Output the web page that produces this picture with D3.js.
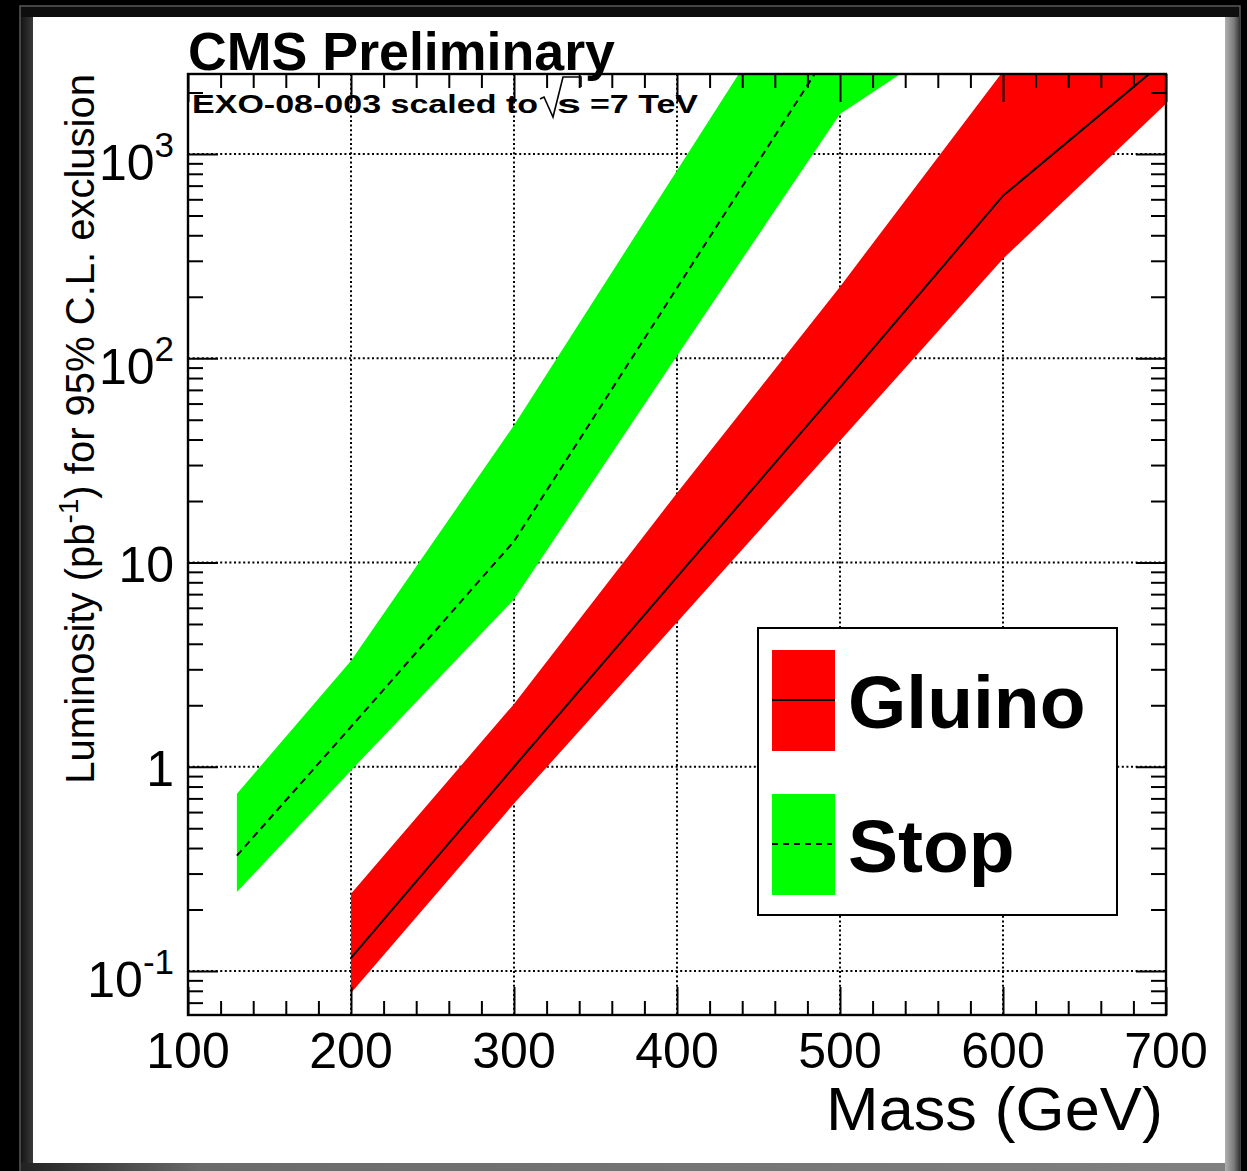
<!DOCTYPE html>
<html>
<head>
<meta charset="utf-8">
<script src="https://cdnjs.cloudflare.com/ajax/libs/d3/7.8.5/d3.min.js"></script>
<style>
  html, body { margin: 0; padding: 0; background: #000; }
  svg { display: block; }
  text { font-family: "Liberation Sans", Arial, Helvetica, sans-serif; }
</style>
</head>
<body>
<script>
// ---------------- data ----------------
const massStop     = [130, 200, 300, 400, 500, 600];
const stopCenter   = [0.367, 1.57, 12.7, 221, 3840, 12000];
const stopLow      = [0.244, 0.96, 6.6, 103, 1570, 5300];
const stopHigh     = [0.738, 3.3, 47, 830, 14700, 40000];

const massGluino   = [200, 300, 400, 500, 600, 700];
const gluinoCenter = [0.116, 1.0, 8.5, 72, 625, 2890];
const gluinoLow    = [0.078, 0.66, 5.1, 39.5, 307, 1760];
const gluinoHigh   = [0.239, 2.03, 21.9, 224, 2540, 13000];

const xTickValues = [100, 200, 300, 400, 500, 600, 700];
const xTickLabels = ["100", "200", "300", "400", "500", "600", "700"];
const yTickValues = [0.1, 1, 10, 100, 1000];
const yTickBase   = ["10", "1", "10", "10", "10"];
const yTickSup    = ["-1", "", "", "2", "3"];
const legendNames = ["Gluino", "Stop"];

// ---------------- layout ----------------
const W = 1247, H = 1171;
const L = 188, R = 1166, T = 74, B = 1015;

const svg = d3.select("body").append("svg").attr("width", W).attr("height", H);
const defs = svg.append("defs");

// window-like frame
const gR = defs.append("linearGradient").attr("id", "gRight").attr("x1", 0).attr("x2", 1).attr("y1", 0).attr("y2", 0);
gR.append("stop").attr("offset", "0").attr("stop-color", "#b0b0b0");
gR.append("stop").attr("offset", "0.6").attr("stop-color", "#7a7a7a");
gR.append("stop").attr("offset", "1").attr("stop-color", "#333");
const gB = defs.append("linearGradient").attr("id", "gBottom").attr("x1", 0).attr("x2", 1).attr("y1", 0).attr("y2", 0);
gB.append("stop").attr("offset", "0").attr("stop-color", "#222");
gB.append("stop").attr("offset", "0.15").attr("stop-color", "#6a6a6a");
gB.append("stop").attr("offset", "1").attr("stop-color", "#808080");
const gL = defs.append("linearGradient").attr("id", "gLeft").attr("x1", 0).attr("x2", 1).attr("y1", 0).attr("y2", 0);
gL.append("stop").attr("offset", "0").attr("stop-color", "#151515");
gL.append("stop").attr("offset", "1").attr("stop-color", "#3a3a3a");

svg.append("rect").attr("width", W).attr("height", H).attr("fill", "#000");
svg.append("rect").attr("x", 20).attr("y", 6).attr("width", 1220).attr("height", 1170)
  .attr("fill", "#0e0e0e").attr("stroke", "#5a5a5a").attr("stroke-width", 1.5);
svg.append("rect").attr("x", 21).attr("y", 17).attr("width", 12).attr("height", 1154).attr("fill", "url(#gLeft)");
svg.append("rect").attr("x", 1225).attr("y", 17).attr("width", 15).attr("height", 1154).attr("fill", "url(#gRight)");
svg.append("rect").attr("x", 21).attr("y", 1163).attr("width", 1204).attr("height", 8).attr("fill", "url(#gBottom)");
svg.append("rect").attr("x", 33).attr("y", 17).attr("width", 1192).attr("height", 1146).attr("fill", "#fff");

// ---------------- scales ----------------
const x = d3.scaleLinear().domain([100, 700]).range([L, R]);
const y = d3.scaleLog().domain([0.0609, 2464]).range([B, T]);

defs.append("clipPath").attr("id", "plotClip")
  .append("rect").attr("x", L).attr("y", T).attr("width", R - L).attr("height", B - T);

// ---------------- grid ----------------
const grid = svg.append("g").attr("stroke", "#000").attr("stroke-width", 2)
  .attr("stroke-dasharray", "2,2.6").attr("fill", "none");
xTickValues.filter(v => v > 100 && v < 700).forEach(v => {
  grid.append("line").attr("x1", x(v)).attr("x2", x(v)).attr("y1", T).attr("y2", B);
});
yTickValues.forEach(v => {
  grid.append("line").attr("x1", L).attr("x2", R).attr("y1", y(v)).attr("y2", y(v));
});

// ---------------- bands ----------------
const plot = svg.append("g").attr("clip-path", "url(#plotClip)");
const stopData = massStop.map((m, i) => ({ m, c: stopCenter[i], lo: stopLow[i], hi: stopHigh[i] }));
const gluData  = massGluino.map((m, i) => ({ m, c: gluinoCenter[i], lo: gluinoLow[i], hi: gluinoHigh[i] }));

const area = d3.area().x(d => x(d.m)).y0(d => y(d.lo)).y1(d => y(d.hi));
const line = d3.line().x(d => x(d.m)).y(d => y(d.c));

plot.append("path").datum(stopData).attr("d", area).attr("fill", "#00ff00");
plot.append("path").datum(gluData).attr("d", area).attr("fill", "#ff0000");
plot.append("path").datum(stopData).attr("d", line).attr("fill", "none")
  .attr("stroke", "#000").attr("stroke-width", 2).attr("stroke-dasharray", "7,5");
plot.append("path").datum(gluData).attr("d", line).attr("fill", "none")
  .attr("stroke", "#000").attr("stroke-width", 2);

// ---------------- axes (ticks) ----------------
const xMinor = d3.range(120, 700, 20).filter(v => v % 100 !== 0);
const yMinor = [];
for (let d = -2; d <= 3; d++) for (let k = 2; k <= 9; k++) {
  const v = k * Math.pow(10, d);
  if (v > 0.0609 && v < 2464) yMinor.push(v);
}
function styleAxis(g) {
  g.select(".domain").remove();
  g.selectAll(".tick line").attr("stroke", "#000").attr("stroke-width", 2);
  g.selectAll(".tick text").remove();
}
svg.append("g").attr("transform", `translate(0,${B})`)
  .call(d3.axisBottom(x).tickValues(xTickValues).tickSizeInner(-28).tickSizeOuter(0).tickFormat("")).call(styleAxis);
svg.append("g").attr("transform", `translate(0,${B})`)
  .call(d3.axisBottom(x).tickValues(xMinor).tickSizeInner(-14).tickSizeOuter(0).tickFormat("")).call(styleAxis);
svg.append("g").attr("transform", `translate(0,${T})`)
  .call(d3.axisTop(x).tickValues(xTickValues).tickSizeInner(-28).tickSizeOuter(0).tickFormat("")).call(styleAxis);
svg.append("g").attr("transform", `translate(0,${T})`)
  .call(d3.axisTop(x).tickValues(xMinor).tickSizeInner(-14).tickSizeOuter(0).tickFormat("")).call(styleAxis);
svg.append("g").attr("transform", `translate(${L},0)`)
  .call(d3.axisLeft(y).tickValues(yTickValues).tickSizeInner(-30).tickSizeOuter(0).tickFormat("")).call(styleAxis);
svg.append("g").attr("transform", `translate(${L},0)`)
  .call(d3.axisLeft(y).tickValues(yMinor).tickSizeInner(-15).tickSizeOuter(0).tickFormat("")).call(styleAxis);
svg.append("g").attr("transform", `translate(${R},0)`)
  .call(d3.axisRight(y).tickValues(yTickValues).tickSizeInner(-30).tickSizeOuter(0).tickFormat("")).call(styleAxis);
svg.append("g").attr("transform", `translate(${R},0)`)
  .call(d3.axisRight(y).tickValues(yMinor).tickSizeInner(-15).tickSizeOuter(0).tickFormat("")).call(styleAxis);

// frame
svg.append("rect").attr("x", L).attr("y", T).attr("width", R - L).attr("height", B - T)
  .attr("fill", "none").attr("stroke", "#000").attr("stroke-width", 2.4);

// ---------------- tick labels ----------------
svg.append("g").selectAll("text").data(xTickValues).join("text")
  .attr("x", d => x(d)).attr("y", 1068).attr("text-anchor", "middle")
  .attr("font-size", 50).attr("fill", "#000")
  .text((d, i) => xTickLabels[i]);

const yl = svg.append("g").selectAll("text").data(yTickValues).join("text")
  .attr("x", 174).attr("y", (d, i) => y(d) + (yTickSup[i] ? 26 : 19))
  .attr("text-anchor", "end").attr("font-size", 50).attr("fill", "#000");
yl.append("tspan").text((d, i) => yTickBase[i]);
yl.append("tspan").attr("font-size", 35).attr("dy", -23).text((d, i) => yTickSup[i]);

// ---------------- titles ----------------
svg.append("text").attr("x", 826).attr("y", 1130).attr("font-size", 62).attr("fill", "#000")
  .attr("textLength", 337).attr("lengthAdjust", "spacingAndGlyphs")
  .text("Mass (GeV)");

const ylab = svg.append("text").attr("transform", "translate(94,74) rotate(-90)")
  .attr("text-anchor", "end").attr("font-size", 40).attr("fill", "#000");
ylab.append("tspan").text("Luminosity (pb");
ylab.append("tspan").attr("font-size", 28).attr("dy", -16).text("-1");
ylab.append("tspan").attr("dy", 16).text(") for 95% C.L. exclusion");

svg.append("text").attr("x", 188).attr("y", 70).attr("font-size", 53).attr("font-weight", "bold")
  .attr("fill", "#000").attr("textLength", 427).attr("lengthAdjust", "spacingAndGlyphs")
  .text("CMS Preliminary");

const sub = svg.append("g").attr("font-weight", "bold").attr("font-size", 26).attr("fill", "#000");
sub.append("text").attr("x", 192).attr("y", 113).attr("textLength", 346).attr("lengthAdjust", "spacingAndGlyphs")
  .text("EXO-08-003 scaled to");
sub.append("path").attr("d", "M540,99 L544,97 L553,117 L563,77 L581,77 L581,87")
  .attr("fill", "none").attr("stroke", "#000").attr("stroke-width", 1.6);
sub.append("text").attr("x", 557).attr("y", 113).attr("textLength", 24).attr("lengthAdjust", "spacingAndGlyphs").text("s");
sub.append("text").attr("x", 590).attr("y", 113).attr("textLength", 108).attr("lengthAdjust", "spacingAndGlyphs").text("=7 TeV");

// ---------------- legend ----------------
const lg = svg.append("g");
lg.append("rect").attr("x", 758).attr("y", 628).attr("width", 359).attr("height", 287)
  .attr("fill", "#fff").attr("stroke", "#000").attr("stroke-width", 2);
const swCol = ["#ff0000", "#00ff00"];
const swY = [650, 794];
legendNames.forEach((name, i) => {
  lg.append("rect").attr("x", 772).attr("y", swY[i]).attr("width", 63).attr("height", 101).attr("fill", swCol[i]);
  lg.append("line").attr("x1", 772).attr("x2", i === 0 ? 835 : 832).attr("y1", swY[i] + 50).attr("y2", swY[i] + 50)
    .attr("stroke", "#000").attr("stroke-width", 1.8).attr("stroke-dasharray", i === 0 ? null : "6,5");
  lg.append("text").attr("x", 848).attr("y", swY[i] + 78).attr("font-size", 75).attr("font-weight", "bold")
    .attr("fill", "#000").text(name);
});
</script>
</body>
</html>
